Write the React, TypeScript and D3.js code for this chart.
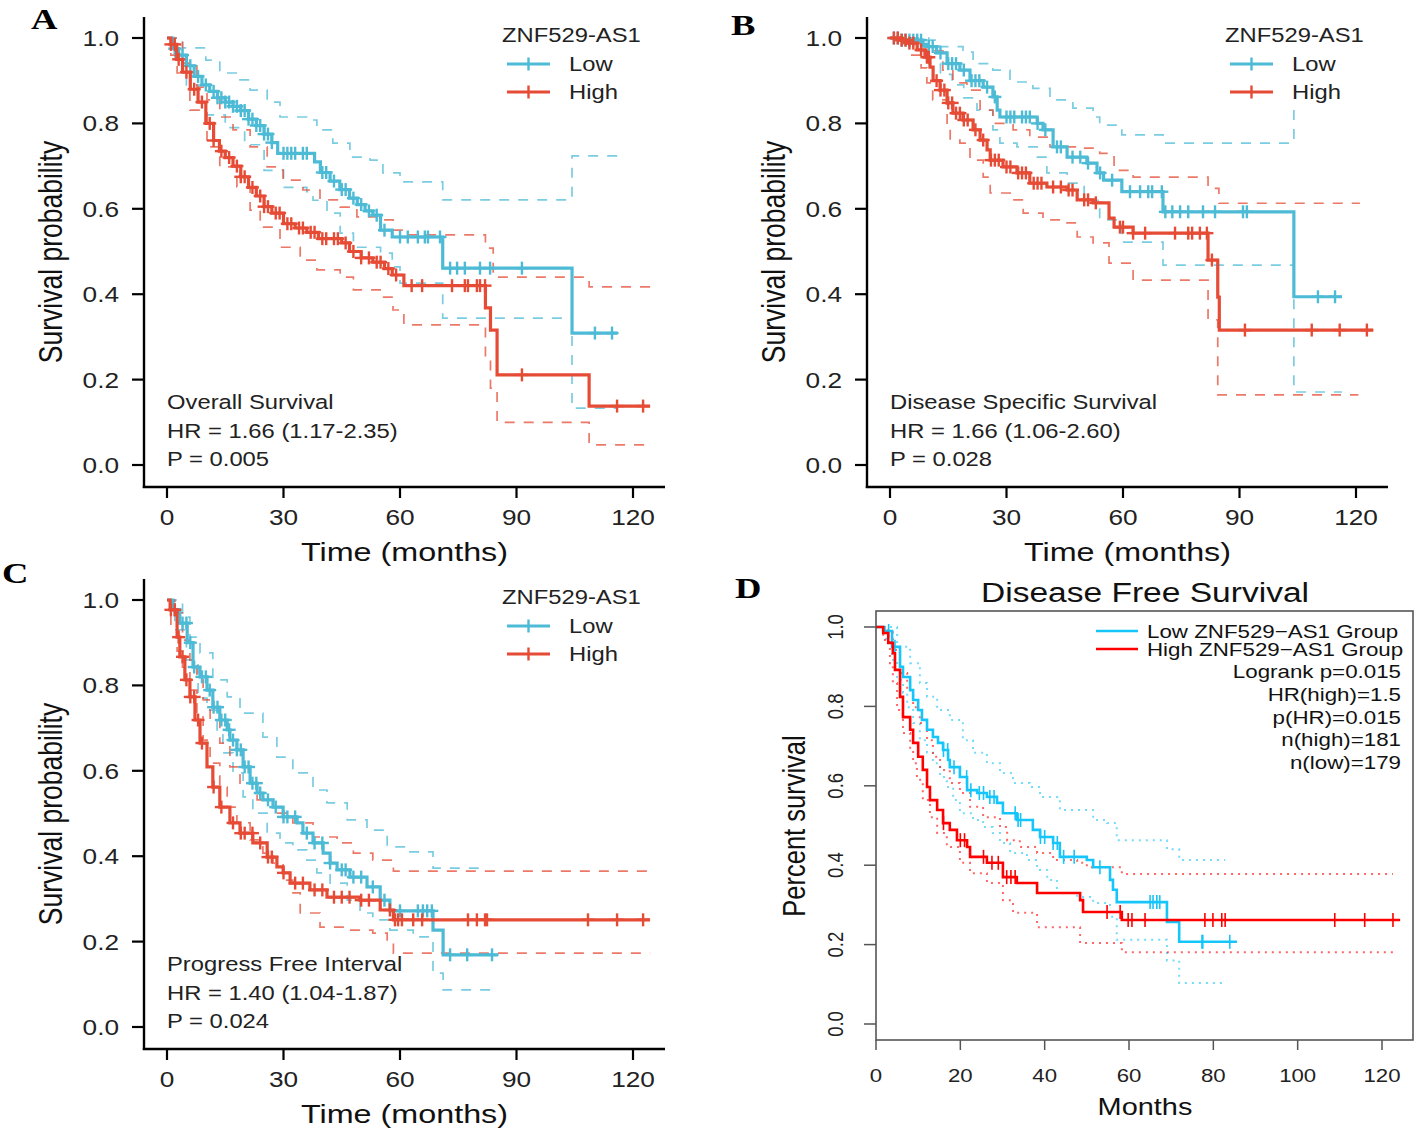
import React from 'react';
import * as d3 from 'd3';

type P = [number, number];

// ---------- Panel A: Overall Survival ----------
const A_lowSurv: P[] = [[0,1],[1.5,0.975],[3,0.96],[5,0.935],[7,0.91],[9,0.89],[11,0.875],[13,0.86],[15,0.85],[17,0.84],[19,0.83],[21,0.81],[23,0.795],[25,0.775],[27,0.755],[28.5,0.73],[38,0.71],[39.5,0.685],[42,0.665],[44.5,0.645],[47,0.625],[49,0.61],[51,0.595],[53,0.585],[55,0.55],[58,0.534],[71,0.461],[104.3,0.309],[116,0.309]];
const A_lowUpper: P[] = [[0,1],[4,0.977],[10,0.948],[13.6,0.918],[18.8,0.902],[21.4,0.878],[25.8,0.85],[29.1,0.815],[36,0.808],[38.6,0.785],[42.7,0.754],[47.1,0.721],[52.3,0.714],[55.6,0.684],[60,0.663],[71,0.621],[104.3,0.724],[116,0.724]];
const A_lowLower: P[] = [[0,1],[2,0.95],[5,0.89],[8,0.85],[10,0.82],[15,0.79],[20,0.75],[25,0.69],[30,0.65],[36,0.64],[37.6,0.62],[41.2,0.59],[44.6,0.543],[48,0.51],[55,0.496],[58,0.464],[60,0.426],[71,0.344],[104.3,0.133],[116,0.133]];
const A_lowCensor = [2,4,6,8,10,12,13,14,15,16,17,18,19,20,21,22,23,24,25,26,27,30,31,32,33,35,36,40,41,43,45,46,48,50,52,54,56,60,62,64.6,66.4,67.2,70.3,72.9,74.7,76.7,80.6,83.2,91.4,110.2,114.6];
const A_highSurv: P[] = [[0,1],[1,0.985],[2.5,0.95],[4,0.92],[6,0.88],[8,0.85],[10,0.8],[12,0.76],[13.5,0.735],[15,0.72],[17,0.7],[19,0.675],[21,0.65],[23,0.63],[25,0.605],[27,0.59],[30,0.565],[33,0.555],[36,0.545],[39,0.53],[45,0.52],[47,0.5],[50,0.485],[53,0.475],[56,0.46],[58,0.445],[61,0.42],[82,0.368],[83.3,0.316],[85,0.211],[108.7,0.138],[124.4,0.138]];
const A_highUpper: P[] = [[0,1],[4,0.941],[7.7,0.885],[10.3,0.855],[13.6,0.815],[17,0.785],[21.4,0.745],[25.8,0.698],[29.9,0.667],[35,0.644],[39.4,0.621],[44.6,0.604],[48.9,0.581],[54,0.574],[58.2,0.55],[61,0.539],[82,0.508],[84,0.44],[108.7,0.417],[124.4,0.417]];
const A_highLower: P[] = [[0,1],[1,0.96],[2.6,0.918],[5.9,0.831],[10.3,0.745],[13.6,0.698],[18,0.651],[21.4,0.597],[24,0.557],[29.1,0.51],[34.3,0.48],[38.6,0.457],[44.6,0.44],[48,0.41],[54.9,0.393],[58.2,0.363],[61,0.328],[82,0.25],[83.3,0.18],[85,0.1],[108.7,0.047],[124.4,0.047]];
const A_highCensor = [1,2,3,5,7,9,11,12,14,16,18,19,20,22,24,25,26,28,29,31,32,34,35,37,38,40,41,43,44,46,48,50,52,54,55,57,59,63,65.7,73.4,76.7,77.5,79.8,80.6,81.9,91.4,115.9,122.6];

// ---------- Panel B: Disease Specific Survival ----------
const B_lowSurv: P[] = [[0,1],[3,0.995],[8.5,0.985],[9.5,0.98],[12,0.965],[14.7,0.94],[18,0.925],[20.6,0.9],[24,0.885],[26.5,0.862],[27.6,0.831],[28.3,0.815],[37.9,0.8],[39.4,0.785],[42,0.745],[45.6,0.721],[50.7,0.707],[53.3,0.684],[55,0.667],[59.7,0.64],[70.3,0.593],[104,0.394],[116.4,0.394]];
const B_lowUpper: P[] = [[0,1],[10,0.995],[12.9,0.98],[18.8,0.967],[21.4,0.94],[26.5,0.925],[30.9,0.897],[36.8,0.882],[41.2,0.855],[47.1,0.836],[52.3,0.815],[54,0.796],[59.7,0.773],[70.3,0.754],[104,1.0],[116.4,1.0]];
const B_lowLower: P[] = [[0,1],[8,0.97],[10,0.94],[13,0.915],[16,0.89],[19,0.86],[22.4,0.831],[26.5,0.785],[28.3,0.754],[32.7,0.745],[37.9,0.721],[40.4,0.684],[45.6,0.66],[50,0.62],[54,0.574],[59.7,0.522],[70.3,0.468],[104,0.171],[116.4,0.171]];
const B_lowCensor = [1,2,3,4,5,6,7,8,10,11,13,15,16,17,19,21,22,23,25,27,30,31,32,34,35,36,38,40,43,44,47,49,51,54.1,57.2,61.8,64.4,66.5,67.5,70,70.9,72.7,74.7,76.8,80.6,83.7,90.9,91.9,110.2,114.6];
const B_highSurv: P[] = [[0,1],[2.6,0.995],[4.4,0.988],[7,0.972],[9,0.955],[10.3,0.932],[11.1,0.9],[12.9,0.878],[14.7,0.848],[16.2,0.824],[18.8,0.808],[21.4,0.785],[23.2,0.761],[25,0.738],[25.8,0.714],[29.1,0.698],[32.7,0.684],[36,0.66],[40.4,0.651],[45.6,0.644],[48.2,0.621],[52.3,0.614],[56.4,0.578],[57.7,0.557],[62.6,0.543],[81.9,0.48],[84.4,0.393],[84.8,0.316],[124.4,0.316]];
const B_highUpper: P[] = [[0,1],[5,0.99],[8,0.98],[10,0.97],[13.6,0.925],[16.2,0.895],[19.8,0.878],[23.2,0.831],[26.5,0.8],[31.7,0.785],[36,0.768],[41.2,0.745],[48.2,0.742],[54,0.73],[57.7,0.69],[62.6,0.674],[81.9,0.648],[84.7,0.613],[121,0.613]];
const B_highLower: P[] = [[0,1],[5,0.96],[8,0.93],[9.5,0.895],[11,0.855],[14.7,0.785],[15.5,0.761],[18,0.754],[20.6,0.714],[24,0.674],[25.8,0.637],[30.9,0.621],[34.3,0.59],[39.4,0.574],[45.6,0.567],[48.2,0.534],[52.3,0.52],[56.4,0.473],[62.6,0.433],[81.9,0.34],[84.4,0.164],[120.6,0.164]];
const B_highCensor = [1,2,3,4,5,6,8,9.5,10,12,13,14,15,16,17,18,19,20,22,24,26,27,28,30,31,33,34,35,37,38,39,42,44,46,47,50,51,53,59.2,60,62.6,65.7,73.4,76.8,77.8,79.8,81.6,82.9,91.4,108.6,115.8,122.8];

// ---------- Panel C: Progress Free Interval ----------
const C_lowSurv: P[] = [[0,1],[1.5,0.977],[3.3,0.946],[5.2,0.9],[6.7,0.843],[8.5,0.82],[10.3,0.789],[11.8,0.749],[13.6,0.719],[15.5,0.696],[16.2,0.672],[18,0.649],[19.6,0.609],[21.4,0.571],[23.2,0.548],[24.7,0.532],[27.3,0.515],[29.9,0.492],[33.5,0.478],[35,0.454],[37.6,0.431],[40.2,0.407],[42,0.384],[43.8,0.368],[47.1,0.351],[51.5,0.328],[54.9,0.297],[57.4,0.272],[68.5,0.227],[71.1,0.169],[85.2,0.169]];
const C_lowUpper: P[] = [[0,1],[4,0.96],[5.9,0.913],[8.5,0.876],[11.8,0.813],[15.5,0.773],[18.8,0.735],[24.7,0.679],[28.3,0.632],[32.4,0.595],[37.6,0.555],[41.2,0.525],[46.4,0.485],[51.5,0.461],[56.7,0.422],[61.8,0.41],[68.5,0.372],[81.4,0.372]];
const C_lowLower: P[] = [[0,1],[2,0.93],[5,0.86],[8,0.77],[10.3,0.742],[12.9,0.696],[14.4,0.642],[17,0.595],[19.6,0.539],[22.1,0.501],[25.8,0.454],[29.1,0.431],[32.4,0.415],[36,0.391],[38.6,0.361],[42,0.337],[46.4,0.297],[49.7,0.267],[53,0.251],[57.4,0.227],[63.4,0.211],[68.5,0.126],[71.1,0.087],[83.7,0.087]];
const C_lowCensor = [2,4,5,6,7,9,10,11,12,13,14,15,16,17,18,19,20,21,22,23,24,26,28,30,31,33,36,38,40,42,45,46,48,50,53,56,60,64.6,65.9,67,68.2,72.9,77.3,83.7];
const C_highSurv: P[] = [[0,1],[0.8,0.977],[2.6,0.913],[3.3,0.867],[4.6,0.813],[5.9,0.773],[7.2,0.719],[8.5,0.665],[10.3,0.609],[11.8,0.562],[13.6,0.515],[16.2,0.478],[18.8,0.454],[22.1,0.431],[25.8,0.398],[28.3,0.375],[29.9,0.361],[31.7,0.337],[36.8,0.321],[41.2,0.304],[49.7,0.297],[54.9,0.274],[58.3,0.251],[124.4,0.251]];
const C_highUpper: P[] = [[0,1],[2,0.97],[4,0.906],[5.9,0.859],[7.7,0.813],[9.3,0.766],[11.1,0.719],[13.6,0.665],[16.2,0.609],[18.8,0.571],[23.2,0.532],[27.3,0.501],[32.4,0.478],[37.6,0.445],[43.8,0.431],[48,0.407],[53,0.391],[58.3,0.365],[124.4,0.365]];
const C_highLower: P[] = [[0,1],[1,0.94],[2.6,0.88],[4,0.843],[5.9,0.789],[7.7,0.726],[9.3,0.672],[11.1,0.618],[13.6,0.562],[15.5,0.515],[18,0.478],[21.4,0.438],[24.7,0.407],[27.3,0.384],[29.9,0.344],[32.4,0.314],[34.3,0.267],[39.4,0.234],[47.1,0.227],[53,0.22],[56.7,0.197],[58.3,0.173],[124.4,0.173]];
const C_highCensor = [1,2,3,4,5,6,7,8,9,12,14,17,19,20,22,24,26,27,30,33,35,38,40,43,45,47,50,52,57.4,58.7,59.5,60.5,63.4,65.7,77.5,79.8,81.9,82.4,108.4,115.9,122.6];

// ---------- Panel D: Disease Free Survival (GEPIA) ----------
const D_lowSurv: P[] = [[0,1],[2,0.99],[3.8,0.95],[5.7,0.9],[6.4,0.874],[8.1,0.841],[8.8,0.816],[10,0.791],[10.9,0.766],[12.1,0.741],[13.5,0.723],[14.7,0.708],[15.9,0.69],[17.1,0.665],[17.5,0.647],[19.9,0.622],[21.6,0.589],[24,0.582],[26.3,0.572],[28.7,0.557],[30.1,0.531],[33.4,0.514],[37.2,0.489],[38.9,0.471],[42,0.456],[43.6,0.421],[50,0.413],[51.5,0.395],[55.5,0.363],[56.2,0.338],[57.1,0.307],[69,0.257],[71.9,0.207],[85.6,0.207]];
const D_lowUpper: P[] = [[0,1],[3,1],[5,0.95],[8.1,0.909],[10.4,0.859],[12.1,0.824],[14.5,0.791],[17.5,0.766],[20.6,0.715],[23,0.683],[26.3,0.657],[29.4,0.632],[32.5,0.607],[36.5,0.597],[38.9,0.572],[43.6,0.539],[51.5,0.514],[54.8,0.506],[57.1,0.463],[69,0.44],[71.9,0.413],[82.8,0.413]];
const D_lowLower: P[] = [[0,1],[2,0.97],[3.8,0.917],[5,0.867],[6.4,0.834],[7.4,0.798],[8.8,0.758],[10.4,0.715],[12.1,0.683],[13.5,0.657],[15.2,0.622],[16.8,0.597],[18.3,0.564],[19.9,0.531],[23,0.514],[25.4,0.496],[27.7,0.481],[29.4,0.456],[31.8,0.431],[35.8,0.413],[38.2,0.388],[40.6,0.363],[42.9,0.33],[47.7,0.32],[51.5,0.305],[55.5,0.27],[57.1,0.212],[69,0.16],[71.9,0.103],[82.8,0.103]];
const D_lowCensor = [3,4.5,16,17,18.5,21.5,22.5,24.5,25.5,27,28,33,33.7,34.3,39,40,42,43,44.5,47,53.1,65,65.7,66.6,67.3,77.3,77.5,83.9];
const D_highSurv: P[] = [[0,1],[1.7,0.985],[2.9,0.96],[4,0.934],[4.5,0.892],[5.7,0.824],[6.4,0.773],[8.1,0.741],[8.8,0.708],[10,0.673],[11.1,0.64],[12.1,0.597],[12.8,0.564],[14.5,0.539],[15.9,0.506],[17.5,0.489],[19.2,0.463],[21.6,0.446],[22.3,0.421],[26.3,0.406],[30.1,0.37],[33.4,0.355],[38.2,0.33],[48.4,0.312],[49.1,0.282],[58.3,0.262],[124.3,0.262]];
const D_highUpper: P[] = [[0,1],[2.6,0.992],[4,0.942],[5.7,0.884],[7.4,0.841],[8.8,0.798],[10.4,0.758],[12.1,0.715],[13.5,0.673],[15.2,0.64],[17.5,0.607],[19.9,0.582],[22.3,0.547],[25.4,0.521],[29.4,0.496],[31.1,0.463],[34.1,0.446],[38.2,0.431],[42,0.413],[47.7,0.406],[50,0.395],[58.3,0.378],[122.6,0.378]];
const D_highLower: P[] = [[0,1],[1.7,0.967],[3.3,0.909],[4,0.859],[5,0.791],[6.4,0.733],[8.1,0.69],[8.8,0.657],[9.7,0.615],[11.1,0.564],[12.8,0.521],[14.5,0.481],[16.8,0.446],[19.9,0.406],[22.3,0.38],[26.3,0.355],[30.1,0.312],[32.5,0.28],[38.2,0.244],[48.4,0.204],[58.3,0.181],[122.6,0.181]];
const D_highCensor = [16,20,21,25.5,27.5,29,31,32,33,54.8,57.9,59.8,60.7,63.8,78,79.9,82,82.8,108.8,115.9,122.6];

// ---------- Ticks & labels ----------
const survXTicks = [0, 30, 60, 90, 120];
const survYTicks = [0, 0.2, 0.4, 0.6, 0.8, 1.0];
const gepiaXTicks = [0, 20, 40, 60, 80, 100, 120];
const gepiaYTicks = [0, 0.2, 0.4, 0.6, 0.8, 1.0];
const groupLabels = ['Low', 'High'];
const gepiaLegend = ['Low ZNF529\u2212AS1 Group', 'High ZNF529\u2212AS1 Group'];
const gepiaStats = ['Logrank p=0.015', 'HR(high)=1.5', 'p(HR)=0.015', 'n(high)=181', 'n(low)=179'];
const annotA = ['Overall Survival', 'HR = 1.66 (1.17-2.35)', 'P = 0.005'];
const annotB = ['Disease Specific Survival', 'HR = 1.66 (1.06-2.60)', 'P = 0.028'];
const annotC = ['Progress Free Interval', 'HR = 1.40 (1.04-1.87)', 'P = 0.024'];

const LOW = '#4DBBD5';
const HIGH = '#E64B35';
const LOW_D = '#16C5FA';
const HIGH_D = '#FF0000';
const SX = 1.22;
const SANS = '"Liberation Sans", Arial, Helvetica, sans-serif';
const SERIF = '"Liberation Serif", "Times New Roman", serif';

function Txt(props: { x: number; y: number; size: number; anchor?: string; fill?: string; rot?: boolean; family?: string; weight?: string; children: React.ReactNode }) {
  const { x, y, size, anchor = 'start', fill = '#222', rot = false, family = SANS, weight = 'normal', children } = props;
  const tr = rot ? `translate(${x},${y}) rotate(-90) scale(1,${SX})` : `translate(${x},${y}) scale(${SX},1)`;
  return (
    <text transform={tr} fontSize={size} textAnchor={anchor as any} fill={fill} fontFamily={family} fontWeight={weight}>
      {children}
    </text>
  );
}

const stepPath = (pts: P[], x: d3.ScaleLinear<number, number>, y: d3.ScaleLinear<number, number>) =>
  d3.line<P>().x(d => x(d[0])).y(d => y(d[1])).curve(d3.curveStepAfter)(pts) || '';

const survAt = (pts: P[], t: number) => {
  const i = d3.bisector((d: P) => d[0]).right(pts, t) - 1;
  return pts[Math.max(0, i)][1];
};

interface SPProps {
  ox: number; oy: number;
  low: P[]; lowUp: P[]; lowLo: P[]; lowC: number[];
  high: P[]; highUp: P[]; highLo: P[]; highC: number[];
  annot: string[];
}

function SurvPanel(p: SPProps) {
  const { ox, oy } = p;
  const x = d3.scaleLinear().domain([0, 120]).range([ox, ox + 466]);
  const y = d3.scaleLinear().domain([0, 1]).range([oy, oy - 427]);
  const axX = ox - 23, axY = oy + 22, axTop = oy - 448, axRight = ox + 498;
  const groups = [
    { s: p.low, up: p.lowUp, lo: p.lowLo, c: p.lowC, col: LOW },
    { s: p.high, up: p.highUp, lo: p.highLo, c: p.highC, col: HIGH },
  ];
  return (
    <g>
      {groups.map((g, i) => (
        <g key={'ci' + i} fill="none" stroke={g.col} strokeWidth={1.7} strokeOpacity={0.75} strokeDasharray="10,9">
          <path d={stepPath(g.up, x, y)} />
          <path d={stepPath(g.lo, x, y)} />
        </g>
      ))}
      {groups.map((g, i) => (
        <g key={'s' + i}>
          <path d={stepPath(g.s, x, y)} fill="none" stroke={g.col} strokeWidth={3.2} />
          {g.c.map((t, j) => {
            const cx = x(t), cy = y(survAt(g.s, t));
            return (
              <g key={j} stroke={g.col} strokeWidth={2.4}>
                <line x1={cx} x2={cx} y1={cy - 6.5} y2={cy + 6.5} />
                <line x1={cx - 6.5} x2={cx + 6.5} y1={cy} y2={cy} />
              </g>
            );
          })}
        </g>
      ))}
      {/* legend */}
      <rect x={ox + 328} y={oy - 448} width={155} height={86} fill="#fff" />
      <Txt x={ox + 335} y={oy - 423} size={19.5} fill="#222">ZNF529-AS1</Txt>
      {groupLabels.map((lab, i) => {
        const ly = oy - 401 + i * 28;
        const col = i === 0 ? LOW : HIGH;
        return (
          <g key={lab}>
            <line x1={ox + 340} x2={ox + 383} y1={ly} y2={ly} stroke={col} strokeWidth={3.2} />
            <line x1={ox + 361.5} x2={ox + 361.5} y1={ly - 6.5} y2={ly + 6.5} stroke={col} strokeWidth={2.4} />
            <Txt x={ox + 402} y={ly + 7} size={19.5} fill="#222">{lab}</Txt>
          </g>
        );
      })}
      {/* annotations */}
      {p.annot.map((a, i) => (
        <Txt key={a} x={ox} y={oy - 56 + i * 28.5} size={19.5} fill="#222">{a}</Txt>
      ))}
      {/* axes */}
      <line x1={axX} x2={axX} y1={axTop} y2={axY + 1.1} stroke="#000" strokeWidth={2.4} />
      <line x1={axX - 1.2} x2={axRight} y1={axY} y2={axY} stroke="#000" strokeWidth={2.4} />
      {survYTicks.map(v => (
        <g key={'y' + v}>
          <line x1={axX - 12} x2={axX} y1={y(v)} y2={y(v)} stroke="#000" strokeWidth={2.2} />
          <Txt x={axX - 25} y={y(v) + 8} size={21.5} anchor="end" fill="#222">{v.toFixed(1)}</Txt>
        </g>
      ))}
      {survXTicks.map(v => (
        <g key={'x' + v}>
          <line x1={x(v)} x2={x(v)} y1={axY} y2={axY + 11} stroke="#000" strokeWidth={2.2} />
          <Txt x={x(v)} y={axY + 38} size={21.5} anchor="middle" fill="#222">{String(v)}</Txt>
        </g>
      ))}
      <Txt x={(axX + axRight) / 2} y={axY + 74} size={26.5} anchor="middle" fill="#111">Time (months)</Txt>
      <Txt x={axX - 82} y={(axTop + axY) / 2} size={26.5} anchor="middle" rot fill="#111">Survival probability</Txt>
    </g>
  );
}

function GepiaPanel() {
  const x = d3.scaleLinear().domain([0, 120]).range([876, 1382]);
  const y = d3.scaleLinear().domain([0, 1]).range([1024, 627]);
  const bx0 = 876, bx1 = 1413, by0 = 611, by1 = 1040;
  const groups = [
    { s: D_lowSurv, up: D_lowUpper, lo: D_lowLower, c: D_lowCensor, col: LOW_D },
    { s: D_highSurv, up: D_highUpper, lo: D_highLower, c: D_highCensor, col: HIGH_D },
  ];
  return (
    <g>
      {groups.map((g, i) => (
        <g key={'ci' + i} fill="none" stroke={g.col} strokeWidth={2} strokeOpacity={0.6} strokeDasharray="2,5">
          <path d={stepPath(g.up, x, y)} />
          <path d={stepPath(g.lo, x, y)} />
        </g>
      ))}
      {groups.map((g, i) => (
        <g key={'s' + i}>
          <path d={stepPath(g.s, x, y)} fill="none" stroke={g.col} strokeWidth={2.6} />
          {g.c.map((t, j) => {
            const cx = x(t), cy = y(survAt(g.s, t));
            return <line key={j} x1={cx} x2={cx} y1={cy - 7} y2={cy + 7} stroke={g.col} strokeWidth={1.6} />;
          })}
        </g>
      ))}
      <rect x={bx0} y={by0} width={bx1 - bx0} height={by1 - by0} fill="none" stroke="#555" strokeWidth={1.6} />
      {gepiaYTicks.map(v => (
        <g key={'y' + v}>
          <line x1={bx0 - 12} x2={bx0} y1={y(v)} y2={y(v)} stroke="#555" strokeWidth={1.5} />
          <Txt x={843} y={y(v)} size={18.5} anchor="middle" rot fill="#222">{v.toFixed(1)}</Txt>
        </g>
      ))}
      {gepiaXTicks.map(v => (
        <g key={'x' + v}>
          <line x1={x(v)} x2={x(v)} y1={by1} y2={by1 + 10} stroke="#555" strokeWidth={1.5} />
          <Txt x={x(v)} y={1082} size={18.2} anchor="middle" fill="#222">{String(v)}</Txt>
        </g>
      ))}
      <Txt x={1145} y={602} size={27.5} anchor="middle" fill="#111">Disease Free Survival</Txt>
      <Txt x={1145} y={1115} size={23.7} anchor="middle" fill="#111">Months</Txt>
      <Txt x={805} y={826} size={25.5} anchor="middle" rot fill="#111">Percent survival</Txt>
      {gepiaLegend.map((lab, i) => {
        const ly = 631 + i * 18;
        return (
          <g key={lab}>
            <line x1={1096} x2={1138} y1={ly} y2={ly} stroke={i === 0 ? LOW_D : HIGH_D} strokeWidth={2.6} />
            <Txt x={1147} y={ly + 7} size={18.3} fill="#111">{lab}</Txt>
          </g>
        );
      })}
      {gepiaStats.map((s, i) => (
        <Txt key={s} x={1401} y={678 + i * 22.8} size={18.3} anchor="end" fill="#111">{s}</Txt>
      ))}
    </g>
  );
}

export default function App() {
  return (
    <svg width={1416} height={1130} viewBox="0 0 1416 1130" style={{ position: 'absolute', left: 0, top: 0, background: '#fff' }}>
      <rect x={0} y={0} width={1416} height={1130} fill="#fff" />
      <SurvPanel ox={167} oy={465} low={A_lowSurv} lowUp={A_lowUpper} lowLo={A_lowLower} lowC={A_lowCensor}
        high={A_highSurv} highUp={A_highUpper} highLo={A_highLower} highC={A_highCensor} annot={annotA} />
      <SurvPanel ox={890} oy={465} low={B_lowSurv} lowUp={B_lowUpper} lowLo={B_lowLower} lowC={B_lowCensor}
        high={B_highSurv} highUp={B_highUpper} highLo={B_highLower} highC={B_highCensor} annot={annotB} />
      <SurvPanel ox={167} oy={1027} low={C_lowSurv} lowUp={C_lowUpper} lowLo={C_lowLower} lowC={C_lowCensor}
        high={C_highSurv} highUp={C_highUpper} highLo={C_highLower} highC={C_highCensor} annot={annotC} />
      <GepiaPanel />
      <Txt x={31} y={29} size={30} family={SERIF} weight="bold" fill="#000">A</Txt>
      <Txt x={731} y={35} size={30} family={SERIF} weight="bold" fill="#000">B</Txt>
      <Txt x={2} y={583} size={30} family={SERIF} weight="bold" fill="#000">C</Txt>
      <Txt x={735} y={598} size={30} family={SERIF} weight="bold" fill="#000">D</Txt>
    </svg>
  );
}
